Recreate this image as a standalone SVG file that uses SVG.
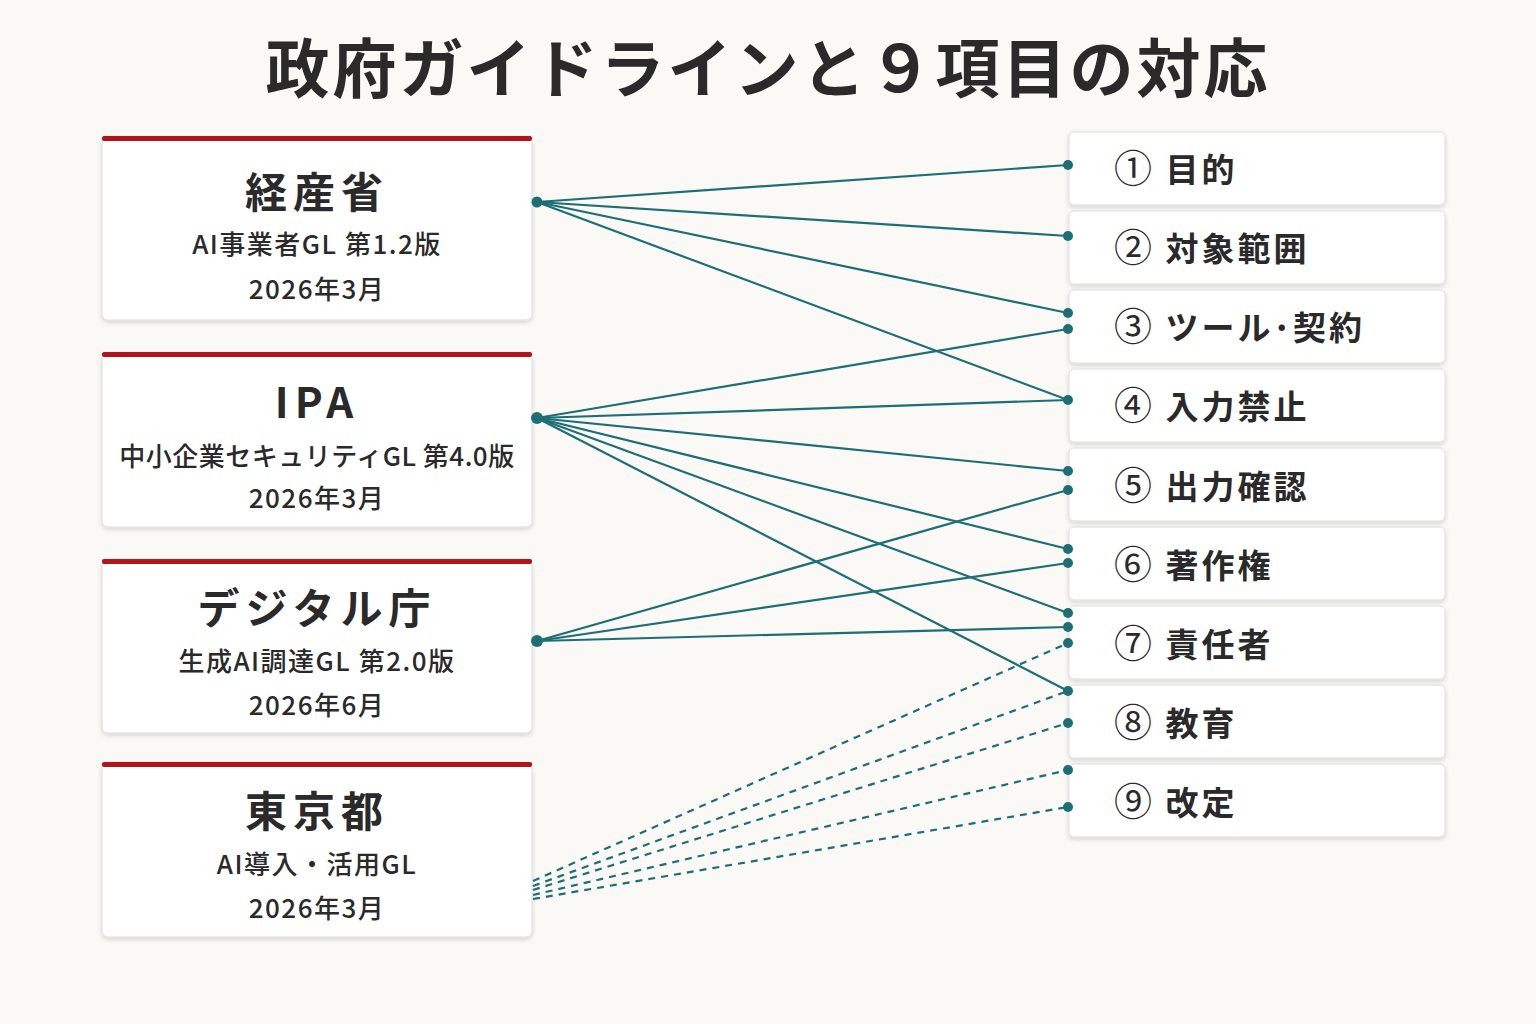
<svg xmlns="http://www.w3.org/2000/svg" width="1536" height="1024" viewBox="0 0 1536 1024">
<defs>
<style>
text{font-family:"Noto Sans CJK JP","Noto Sans",sans-serif;fill:#2a2a2a}
.card{fill:#fff;stroke:#ddd;stroke-width:1}
.bar{fill:#b3131b}
.h{font-size:42px;font-weight:700;text-anchor:middle;letter-spacing:6px}
.s{font-size:26px;font-weight:500;text-anchor:middle;letter-spacing:1.5px}
.it{font-size:33px;font-weight:700;letter-spacing:3px}
.n{font-size:38px;font-weight:400}
.c line{stroke:#1d6e75;stroke-width:2.2}
.c .d{stroke-dasharray:7 6}
.c circle{fill:#1d6e75}
</style>
<filter id="sh" x="-5%" y="-5%" width="110%" height="120%"><feDropShadow dx="0" dy="2" stdDeviation="2" flood-opacity="0.15"/></filter>
</defs>
<rect width="1536" height="1024" fill="#faf9f6"/>
<text x="768" y="92" style="font-size:64px;font-weight:700;text-anchor:middle;letter-spacing:3px">政府ガイドラインと９項目の対応</text>
<g id="meti"><rect class="card" x="102" y="137" width="430" height="183" rx="6" filter="url(#sh)"/><rect class="bar" x="102" y="136" width="430" height="5" rx="2"/>
<text class="h" x="317" y="208">経産省</text><text class="s" x="317" y="254">AI事業者GL 第1.2版</text><text class="s" x="317" y="299">2026年3月</text></g>
<g id="ipa"><rect class="card" x="102" y="353" width="430" height="174" rx="6" filter="url(#sh)"/><rect class="bar" x="102" y="352" width="430" height="5" rx="2"/>
<text class="h" x="317" y="418">IPA</text><text class="s" x="317" y="466" style="letter-spacing:0.5px">中小企業セキュリティGL 第4.0版</text><text class="s" x="317" y="508">2026年3月</text></g>
<g id="digital"><rect class="card" x="102" y="560" width="430" height="173" rx="6" filter="url(#sh)"/><rect class="bar" x="102" y="559" width="430" height="5" rx="2"/>
<text class="h" x="317" y="624">デジタル庁</text><text class="s" x="317" y="671">生成AI調達GL 第2.0版</text><text class="s" x="317" y="715">2026年6月</text></g>
<g id="tokyo"><rect class="card" x="102" y="763" width="430" height="174" rx="6" filter="url(#sh)"/><rect class="bar" x="102" y="762" width="430" height="5" rx="2"/>
<text class="h" x="317" y="827">東京都</text><text class="s" x="317" y="874">AI導入・活用GL</text><text class="s" x="317" y="918">2026年3月</text></g>
<g id="items">
<g id="i1"><rect class="card" x="1069" y="132" width="376" height="73" rx="5" filter="url(#sh)"/><text class="it" x="1114" y="182"><tspan class="n">①</tspan> 目的</text></g>
<g id="i2"><rect class="card" x="1069" y="211" width="376" height="73" rx="5" filter="url(#sh)"/><text class="it" x="1114" y="261"><tspan class="n">②</tspan> 対象範囲</text></g>
<g id="i3"><rect class="card" x="1069" y="290" width="376" height="73" rx="5" filter="url(#sh)"/><text class="it" x="1114" y="340"><tspan class="n">③</tspan> ツール･契約</text></g>
<g id="i4"><rect class="card" x="1069" y="369" width="376" height="73" rx="5" filter="url(#sh)"/><text class="it" x="1114" y="419"><tspan class="n">④</tspan> 入力禁止</text></g>
<g id="i5"><rect class="card" x="1069" y="448" width="376" height="73" rx="5" filter="url(#sh)"/><text class="it" x="1114" y="499"><tspan class="n">⑤</tspan> 出力確認</text></g>
<g id="i6"><rect class="card" x="1069" y="527" width="376" height="73" rx="5" filter="url(#sh)"/><text class="it" x="1114" y="578"><tspan class="n">⑥</tspan> 著作権</text></g>
<g id="i7"><rect class="card" x="1069" y="606" width="376" height="73" rx="5" filter="url(#sh)"/><text class="it" x="1114" y="657"><tspan class="n">⑦</tspan> 責任者</text></g>
<g id="i8"><rect class="card" x="1069" y="685" width="376" height="73" rx="5" filter="url(#sh)"/><text class="it" x="1114" y="736"><tspan class="n">⑧</tspan> 教育</text></g>
<g id="i9"><rect class="card" x="1069" y="764" width="376" height="73" rx="5" filter="url(#sh)"/><text class="it" x="1114" y="815"><tspan class="n">⑨</tspan> 改定</text></g>
</g>
<g id="connectors" class="c">
<line x1="537" y1="202" x2="1068" y2="165"/><line x1="537" y1="202" x2="1068" y2="236"/><line x1="537" y1="202" x2="1068" y2="313"/><line x1="537" y1="202" x2="1068" y2="400"/>
<line x1="537" y1="418" x2="1068" y2="329"/><line x1="537" y1="418" x2="1068" y2="400"/><line x1="537" y1="418" x2="1068" y2="471"/><line x1="537" y1="418" x2="1068" y2="549"/><line x1="537" y1="418" x2="1068" y2="613"/><line x1="537" y1="418" x2="1068" y2="691"/>
<line x1="537" y1="641" x2="1068" y2="490"/><line x1="537" y1="641" x2="1068" y2="563"/><line x1="537" y1="641" x2="1068" y2="627"/>
<line class="d" x1="533" y1="881" x2="1068" y2="643"/><line class="d" x1="533" y1="886" x2="1068" y2="691"/><line class="d" x1="533" y1="890" x2="1068" y2="723"/><line class="d" x1="533" y1="895" x2="1068" y2="770"/><line class="d" x1="533" y1="899" x2="1068" y2="807"/>
<circle cx="537" cy="202" r="5.5"/><circle cx="537" cy="418" r="6"/><circle cx="537" cy="641" r="6"/>
<circle cx="1068" cy="165" r="5"/><circle cx="1068" cy="236" r="5"/><circle cx="1068" cy="313" r="5"/><circle cx="1068" cy="329" r="5"/><circle cx="1068" cy="400" r="5"/><circle cx="1068" cy="471" r="5"/><circle cx="1068" cy="490" r="5"/><circle cx="1068" cy="549" r="5"/><circle cx="1068" cy="563" r="5"/><circle cx="1068" cy="613" r="5"/><circle cx="1068" cy="627" r="5"/><circle cx="1068" cy="643" r="5"/><circle cx="1068" cy="691" r="5"/><circle cx="1068" cy="723" r="5"/><circle cx="1068" cy="770" r="5"/><circle cx="1068" cy="807" r="5"/>
</g>
</svg>
